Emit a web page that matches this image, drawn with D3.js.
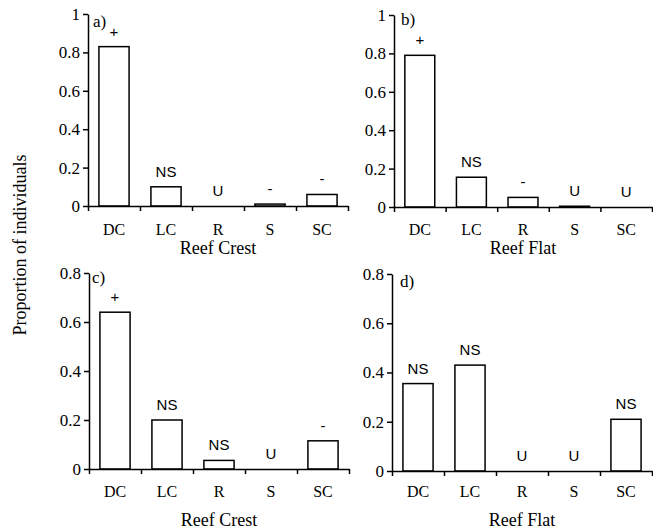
<!DOCTYPE html>
<html>
<head>
<meta charset="utf-8">
<script src="https://cdn.jsdelivr.net/npm/d3@7"></script>
<style>
body{margin:0;background:#fff;}
svg text{fill:#000;}
</style>
</head>
<body>
<svg id="chart" width="653" height="530"></svg>
<script>
// categories and values
var categories = ['DC', 'LC', 'R', 'S', 'SC'];
var crestAdult = [0.83, 0.10, 0, 0.01, 0.06];
var flatAdult = [0.79, 0.155, 0.05, 0.004, 0];
var crestJuv = [0.64, 0.20, 0.035, 0, 0.115];
var flatJuv = [0.355, 0.43, 0, 0, 0.21];
// significance marks above each bar
var crestAdultSig = ['+', 'NS', 'U', '-', '-'];
var flatAdultSig = ['+', 'NS', '-', 'U', 'U'];
var crestJuvSig = ['+', 'NS', 'NS', 'U', '-'];
var flatJuvSig = ['NS', 'NS', 'U', 'U', 'NS'];
var yTicksTop = [0, 0.2, 0.4, 0.6, 0.8, 1];
var yTicksBottom = [0, 0.2, 0.4, 0.6, 0.8];
var panelLetters = ['a)', 'b)', 'c)', 'd)'];
var habitats = ['Reef Crest', 'Reef Flat', 'Reef Crest', 'Reef Flat'];

var svg = d3.select('#chart');
var serif = '"Liberation Serif", "Times New Roman", serif',
    sans = '"Liberation Sans", Arial, sans-serif';

// panel frames (pixel layout only)
var panels = [
    {vals: crestAdult, sig: crestAdultSig, max: 1, ticks: yTicksTop, x0: 88, x1: 348, y0: 206, y1: 14, lx: 93, ly: 27, catY: 235, titleY: 254},
    {vals: flatAdult, sig: flatAdultSig, max: 1, ticks: yTicksTop, x0: 394, x1: 652, y0: 207, y1: 15, lx: 401, ly: 25, catY: 235, titleY: 254},
    {vals: crestJuv, sig: crestJuvSig, max: 0.8, ticks: yTicksBottom, x0: 89, x1: 349, y0: 469, y1: 273, lx: 92, ly: 283, catY: 497, titleY: 526},
    {vals: flatJuv, sig: flatJuvSig, max: 0.8, ticks: yTicksBottom, x0: 392, x1: 652, y0: 471, y1: 274, lx: 400, ly: 287, catY: 497, titleY: 526}
];

panels.forEach(function(p, i){
    var g = svg.append('g');
    var x = d3.scaleBand().domain(categories).range([p.x0, p.x1])
        .paddingInner(0.42).paddingOuter(0.21);
    var xb = d3.scaleLinear().domain([0, categories.length]).range([p.x0, p.x1]);
    var y = d3.scaleLinear().domain([0, p.max]).range([p.y0, p.y1]);

    // bars
    g.selectAll('rect.bar').data(p.vals).enter().append('rect')
        .attr('class', 'bar')
        .attr('x', function(d, j){ return x(categories[j]); })
        .attr('y', function(d){ return y(d); })
        .attr('width', x.bandwidth())
        .attr('height', function(d){ return y(0) - y(d); })
        .style('fill', '#fff')
        .style('stroke', '#000')
        .style('stroke-width', 1.5);

    // y axis
    var ya = g.append('g').attr('transform', 'translate(' + p.x0 + ',0)')
        .call(d3.axisLeft(y).tickValues(p.ticks).tickSize(5).tickSizeOuter(0).tickPadding(3)
            .tickFormat(function(d){ return String(+d.toFixed(1)); }));
    ya.selectAll('path,line').style('stroke', '#000').style('stroke-width', 1.5);
    ya.selectAll('text').style('font-family', serif).style('font-size', '17px').style('fill', '#000');

    // x axis with ticks between categories
    var xa = g.append('g').attr('transform', 'translate(0,' + p.y0 + ')')
        .call(d3.axisBottom(xb).tickValues(d3.range(categories.length + 1)).tickSize(5).tickSizeOuter(0).tickFormat(''));
    xa.selectAll('path,line').style('stroke', '#000').style('stroke-width', 1.5);

    // category labels
    g.selectAll('text.cat').data(categories).enter().append('text')
        .attr('class', 'cat')
        .attr('x', function(d){ return x(d) + x.bandwidth() / 2; })
        .attr('y', p.catY)
        .attr('text-anchor', 'middle')
        .style('font-family', serif).style('font-size', '16px')
        .text(function(d){ return d; });

    // significance marks
    g.selectAll('text.sig').data(p.sig).enter().append('text')
        .attr('class', 'sig')
        .attr('x', function(d, j){ return x(categories[j]) + x.bandwidth() / 2; })
        .attr('y', function(d, j){ return y(p.vals[j]) - 10; })
        .attr('text-anchor', 'middle')
        .style('font-family', sans).style('font-size', '15px')
        .text(function(d){ return d; });

    // panel letter
    g.append('text').attr('x', p.lx).attr('y', p.ly)
        .style('font-family', serif).style('font-size', '17px')
        .text(panelLetters[i]);

    // habitat title
    g.append('text').attr('x', (p.x0 + p.x1) / 2).attr('y', p.titleY)
        .attr('text-anchor', 'middle')
        .style('font-family', serif).style('font-size', '18px')
        .text(habitats[i]);
});

// shared y title
svg.append('text')
    .attr('transform', 'translate(26,245) rotate(-90)')
    .attr('text-anchor', 'middle')
    .style('font-family', serif).style('font-size', '18px')
    .text('Proportion of individuals');
</script>
</body>
</html>
